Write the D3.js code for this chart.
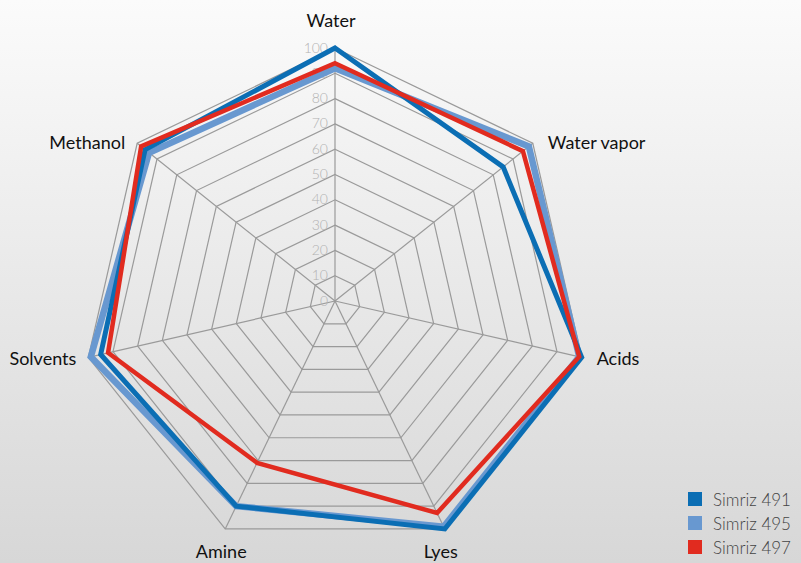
<!DOCTYPE html>
<html lang="en">
<head>
  <meta charset="utf-8">
  <title>Radar chart</title>
  <script src="https://d3js.org/d3.v7.min.js"></script>
  <style>
    body { margin: 0; overflow: hidden; }
    text { font-family: 'Lato', 'Open Sans', sans-serif; }
  </style>
</head>
<body>
<script>
  // chart data
  var categories = ["Water", "Water vapor", "Acids", "Lyes", "Amine", "Solvents", "Methanol"];
  var seriesNames = ["Simriz 491", "Simriz 495", "Simriz 497"];
  var simriz491 = [100, 85, 100, 100, 90, 95, 96];
  var simriz495 = [92, 98, 99, 99, 90, 99, 94];
  var simriz497 = [94, 95, 99, 93, 71, 92, 98];
  var tickValues = [0, 10, 20, 30, 40, 50, 60, 70, 80, 90, 100];

  var colors = {"Simriz 491": "#0b6eb4", "Simriz 495": "#6898d0", "Simriz 497": "#e12b1f"};
  var widths = {"Simriz 491": 5, "Simriz 495": 6.5, "Simriz 497": 4.5};

  var w = 801, h = 563;
  var cx = 335, cy = 301, radius = 253;

  var svg = d3.select("body").append("svg")
    .attr("width", w)
    .attr("height", h);

  // background gradient
  var grad = svg.append("defs").append("linearGradient")
    .attr("id", "bg").attr("x1", 0).attr("y1", 0).attr("x2", 0).attr("y2", 1);
  grad.append("stop").attr("offset", "0%").attr("stop-color", "#fbfbfb");
  grad.append("stop").attr("offset", "100%").attr("stop-color", "#d7d7d7");
  svg.append("rect").attr("width", w).attr("height", h).attr("fill", "url(#bg)");

  var r = d3.scaleLinear().domain([0, 100]).range([0, radius]);
  var angle = d3.scalePoint().domain(categories).range([0, 2 * Math.PI * (categories.length - 1) / categories.length]);

  function pt(cat, v) {
    var a = angle(cat);
    return [cx + r(v) * Math.sin(a), cy - r(v) * Math.cos(a)];
  }

  var g = svg.append("g");

  // grid rings
  tickValues.slice(1).forEach(function(t) {
    g.append("polygon")
      .attr("points", categories.map(function(c) { return pt(c, t).join(","); }).join(" "))
      .attr("fill", "none")
      .attr("stroke", "#9a9a9a")
      .attr("stroke-width", 1.2);
  });

  // spokes
  g.selectAll("line.spoke")
    .data(categories)
    .enter()
    .append("line")
    .attr("class", "spoke")
    .attr("x1", cx).attr("y1", cy)
    .attr("x2", function(d) { return pt(d, 100)[0]; })
    .attr("y2", function(d) { return pt(d, 100)[1]; })
    .attr("stroke", "#9a9a9a")
    .attr("stroke-width", 1.2);

  // tick labels
  g.selectAll("text.tick")
    .data(tickValues)
    .enter()
    .append("text")
    .attr("class", "tick")
    .attr("x", cx - 7)
    .attr("y", function(d) { return cy - r(d) - 1; })
    .attr("text-anchor", "end")
    .attr("dominant-baseline", "central")
    .attr("font-size", "14px")
    .attr("font-weight", 300)
    .attr("fill", "#b2b2b2")
    .text(function(d) { return d; });

  // series
  var seriesData = [
    {name: "Simriz 495", values: simriz495},
    {name: "Simriz 491", values: simriz491},
    {name: "Simriz 497", values: simriz497}
  ];

  var line = d3.line().curve(d3.curveLinearClosed);

  g.selectAll("path.series")
    .data(seriesData)
    .enter()
    .append("path")
    .attr("class", "series")
    .attr("d", function(s) {
      return line(categories.map(function(c, i) { return pt(c, s.values[i]); }));
    })
    .attr("fill", "none")
    .attr("stroke", function(s) { return colors[s.name]; })
    .attr("stroke-width", function(s) { return widths[s.name]; })
    .attr("stroke-linejoin", "miter");

  // category labels
  g.selectAll("text.cat")
    .data(categories)
    .enter()
    .append("text")
    .attr("class", "cat")
    .attr("x", function(d) {
      var p = pt(d, 100), s = Math.sin(angle(d));
      if (Math.abs(s) < 0.5) return p[0] - 4;
      return p[0] + (s > 0 ? 15 : -12);
    })
    .attr("y", function(d) {
      var p = pt(d, 100), c = Math.cos(angle(d));
      if (Math.abs(Math.sin(angle(d))) < 0.5) return p[1] + (c > 0 ? -28 : 22);
      return p[1] + (c > 0 ? -1 : 1);
    })
    .attr("text-anchor", function(d) {
      var s = Math.sin(angle(d));
      if (Math.abs(s) < 0.5) return "middle";
      return s > 0 ? "start" : "end";
    })
    .attr("dominant-baseline", "central")
    .attr("font-size", "18px")
    .attr("fill", "#111")
    .text(function(d) { return d; });

  // legend
  var legend = svg.append("g").attr("transform", "translate(688,492)");
  var item = legend.selectAll("g")
    .data(seriesNames)
    .enter()
    .append("g")
    .attr("transform", function(d, i) { return "translate(0," + (i * 24) + ")"; });
  item.append("rect")
    .attr("width", 14).attr("height", 14)
    .attr("fill", function(d) { return colors[d]; });
  item.append("text")
    .attr("x", 25).attr("y", 7)
    .attr("dominant-baseline", "central")
    .attr("font-size", "17px")
    .attr("font-weight", 300)
    .attr("fill", "#444")
    .text(function(d) { return d; });
</script>
</body>
</html>
